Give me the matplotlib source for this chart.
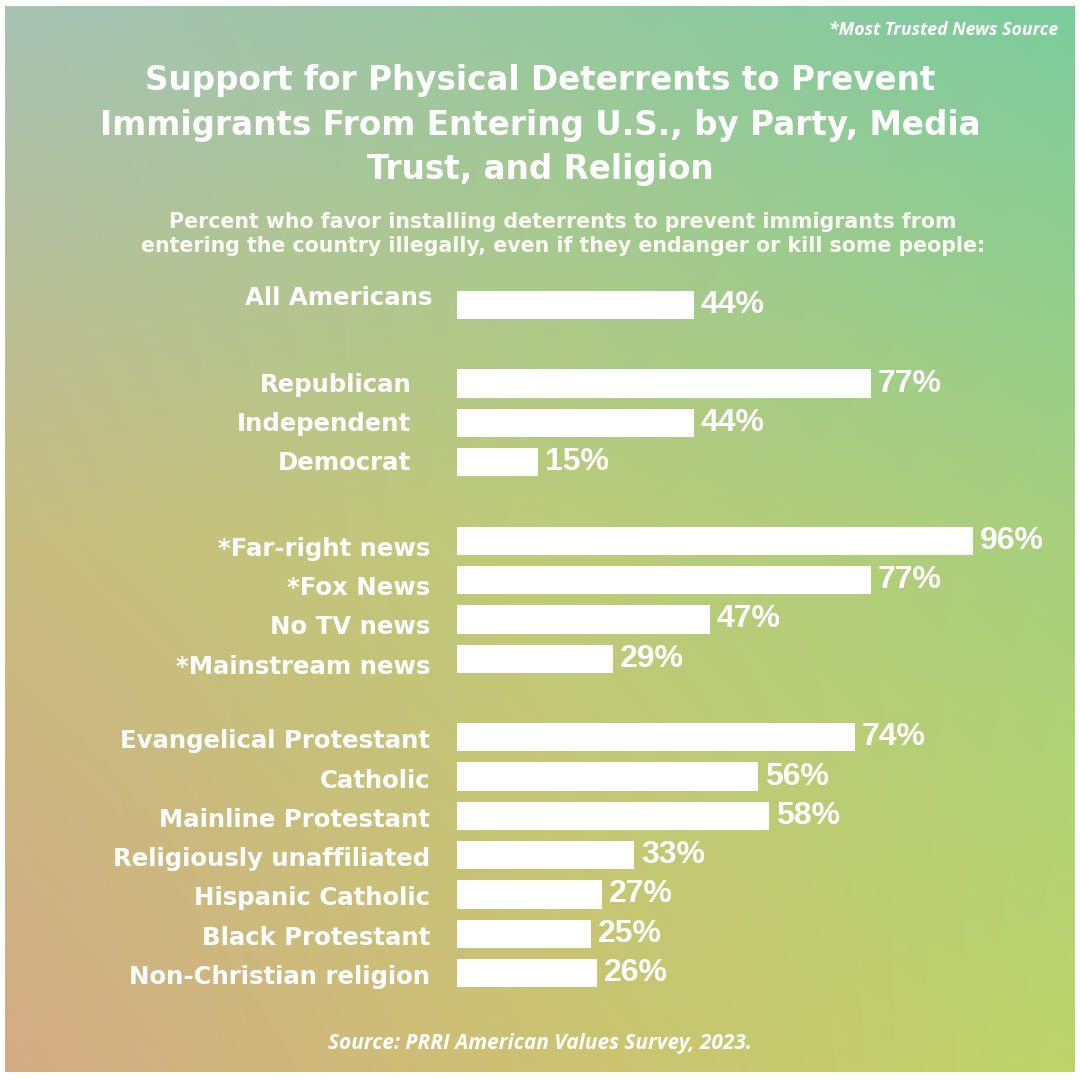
import matplotlib
matplotlib.use("Agg")
import matplotlib.pyplot as plt
import numpy as np

W = H = 1080
DPI = 100

labels = ["All Americans",
          "Republican", "Independent", "Democrat",
          "*Far-right news", "*Fox News", "No TV news", "*Mainstream news",
          "Evangelical Protestant", "Catholic", "Mainline Protestant",
          "Religiously unaffiliated", "Hispanic Catholic", "Black Protestant",
          "Non-Christian religion"]
values = [44, 77, 44, 15, 96, 77, 47, 29, 74, 56, 58, 33, 27, 25, 26]
groups = [0, 1, 1, 1, 2, 2, 2, 2, 3, 3, 3, 3, 3, 3, 3]

title = "Support for Physical Deterrents to Prevent\nImmigrants From Entering U.S., by Party, Media\nTrust, and Religion"
subtitle = ("Percent who favor installing deterrents to prevent immigrants from\n"
            "entering the country illegally, even if they endanger or kill some people:")
note = "*Most Trusted News Source"
source = "Source: PRRI American Values Survey, 2023."

# slot positions: one empty slot between groups
pos = [i + g for i, g in enumerate(groups)]

fig = plt.figure(figsize=(W / DPI, H / DPI), dpi=DPI, facecolor="white")

# gradient background (3x3 colour grid, bilinear)
bg = fig.add_axes([5 / W, 8 / H, 1070 / W, 1066 / H])
grid = np.array([
    [[0xa8, 0xc3, 0xb5], [0x98, 0xc8, 0xa0], [0x7c, 0xcc, 0x9e]],
    [[0xc9, 0xbd, 0x80], [0xbe, 0xcb, 0x78], [0xa8, 0xd0, 0x7e]],
    [[0xd3, 0xac, 0x86], [0xcd, 0xc2, 0x72], [0xbe, 0xd4, 0x6a]],
]) / 255.0
n = 200
t = np.linspace(0, 2, n)
i0 = np.minimum(t.astype(int), 1)
f = t - i0
img = np.zeros((n, n, 3))
for r in range(n):
    a, fa = i0[r], f[r]
    row = grid[a] * (1 - fa) + grid[a + 1] * fa  # 3 x 3
    img[r] = row[i0] * (1 - f)[:, None] + row[i0 + 1] * f[:, None]
bg.imshow(img, aspect="auto", extent=[0, 1, 0, 1], interpolation="bilinear")
bg.axis("off")

# text layer in pixel coordinates
tx = fig.add_axes([0, 0, 1, 1], facecolor="none")
tx.set_xlim(0, W); tx.set_ylim(H, 0); tx.axis("off")

bold = dict(family=["DejaVu Sans"], weight="bold", color="white")
tx.text(540, 125, title, ha="center", va="center", fontsize=23.5, linespacing=1.45, **bold)
tx.text(563, 234, subtitle, ha="center", va="center", fontsize=14.8, linespacing=1.25,
        family=["DejaVu Sans"], weight="bold", color="#fbfbf4")
tx.text(1058, 30, note, ha="right", va="center", fontsize=12.8, color="white",
        family=["Open Sans", "DejaVu Sans"], weight="bold", style="italic")
tx.text(540, 1043, source, ha="center", va="center", fontsize=15, color="white",
        family=["Open Sans", "DejaVu Sans"], weight="bold", style="italic")

# bars
slot = 39.3
top = 305 - slot / 2
nslots = max(pos) + 1
ax = fig.add_axes([457 / W, 1 - (top + slot * nslots) / H, 537.5 / W, slot * nslots / H],
                  facecolor="none")
ax.barh(pos, values, height=0.72, color="white")
ax.set_xlim(0, 100)
ax.set_ylim(nslots - 0.5, -0.5)
ax.axis("off")

# labels sit a bit off the bar centre in the original, differently per group
pads = {0: 25, 1: 46, 2: 27, 3: 27}
shifts = {0: 7, 1: -1, 2: -8, 3: -4}
for p, v, lab, g in zip(pos, values, labels, groups):
    ax.annotate(lab, (0, p), xytext=(-pads[g] * 0.72, shifts[g] * 0.72),
                textcoords="offset points",
                ha="right", va="center", fontsize=17.6, **bold)
    ax.annotate(f"{v}%", (v, p), xytext=(5, 0), textcoords="offset points",
                ha="left", va="center", fontsize=23, weight="bold",
                family=["Liberation Sans", "DejaVu Sans"], color="white")

fig.savefig("out.png", dpi=DPI, facecolor="white")
